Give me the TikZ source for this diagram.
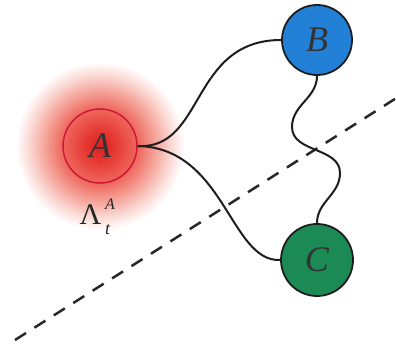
\documentclass[tikz,border=0pt]{standalone}
\usepackage{fontspec}
\setmainfont{Liberation Serif}
\definecolor{bfill}{RGB}{35,128,215}
\definecolor{cfill}{RGB}{28,138,84}
\definecolor{aline}{RGB}{205,25,55}
\definecolor{wire}{RGB}{30,30,30}
\definecolor{dashc}{RGB}{40,40,40}
\pgfdeclareradialshading{halo}{\pgfpoint{0bp}{0bp}}{%
  rgb(0bp)=(0.87,0.12,0.12);
  rgb(15bp)=(0.90,0.22,0.20);
  rgb(37bp)=(0.935,0.40,0.36);
  rgb(55bp)=(0.96,0.64,0.60);
  rgb(70bp)=(0.98,0.84,0.82);
  rgb(84bp)=(1,1,1)}
\begin{document}
\begin{tikzpicture}[x=1pt,y=1pt,
  ball/.style={circle,draw=wire,line width=1.8pt,inner sep=0pt},
  wirestyle/.style={draw=wire,line width=2pt},
  lett/.style={font=\fontsize{36}{36}\selectfont\itshape,text=black!80},
  labtxt/.style={inner sep=0pt,text=black!85}]
\useasboundingbox (0,0) rectangle (396,347);
\fill[white] (0,0) rectangle (396,347);
\node[inner sep=0pt] (halo) at (100,201) {\pgfuseshading{halo}};
\node[ball,minimum size=74pt,draw=aline,line width=1.5pt,lett] (A) at (100,201) {A};
\node[ball,minimum size=70pt,fill=bfill,lett] (B) at (317,307) {B};
\node[ball,minimum size=72pt,fill=cfill,lett] (C) at (317,87) {C};
\node[labtxt,anchor=base west,font=\fontsize{30}{30}\selectfont] (lam) at (79.5,122) {Λ};
\node[labtxt,anchor=base west,font=\fontsize{16}{16}\selectfont\itshape] (sup) at (105,137) {A};
\node[labtxt,anchor=base west,font=\fontsize{18}{18}\selectfont\itshape] (sub) at (105,112) {t};
\coordinate (d1) at (15,7);
\coordinate (d2) at (398,250);
\draw[dashc,line width=2.5pt,dash pattern=on 13pt off 10pt] (d1) -- (d2);
\draw[wirestyle] (A.east) .. controls (205,197) and (190,307) .. (B.west);
\draw[wirestyle] (A.east) .. controls (225,199) and (230,85) .. (C.west);
\draw[wirestyle] (B.south) to[out=-90,in=90] (292,220) to[out=-90,in=90] (340,174) to[out=-90,in=90] (C.north);
\end{tikzpicture}
\end{document}
